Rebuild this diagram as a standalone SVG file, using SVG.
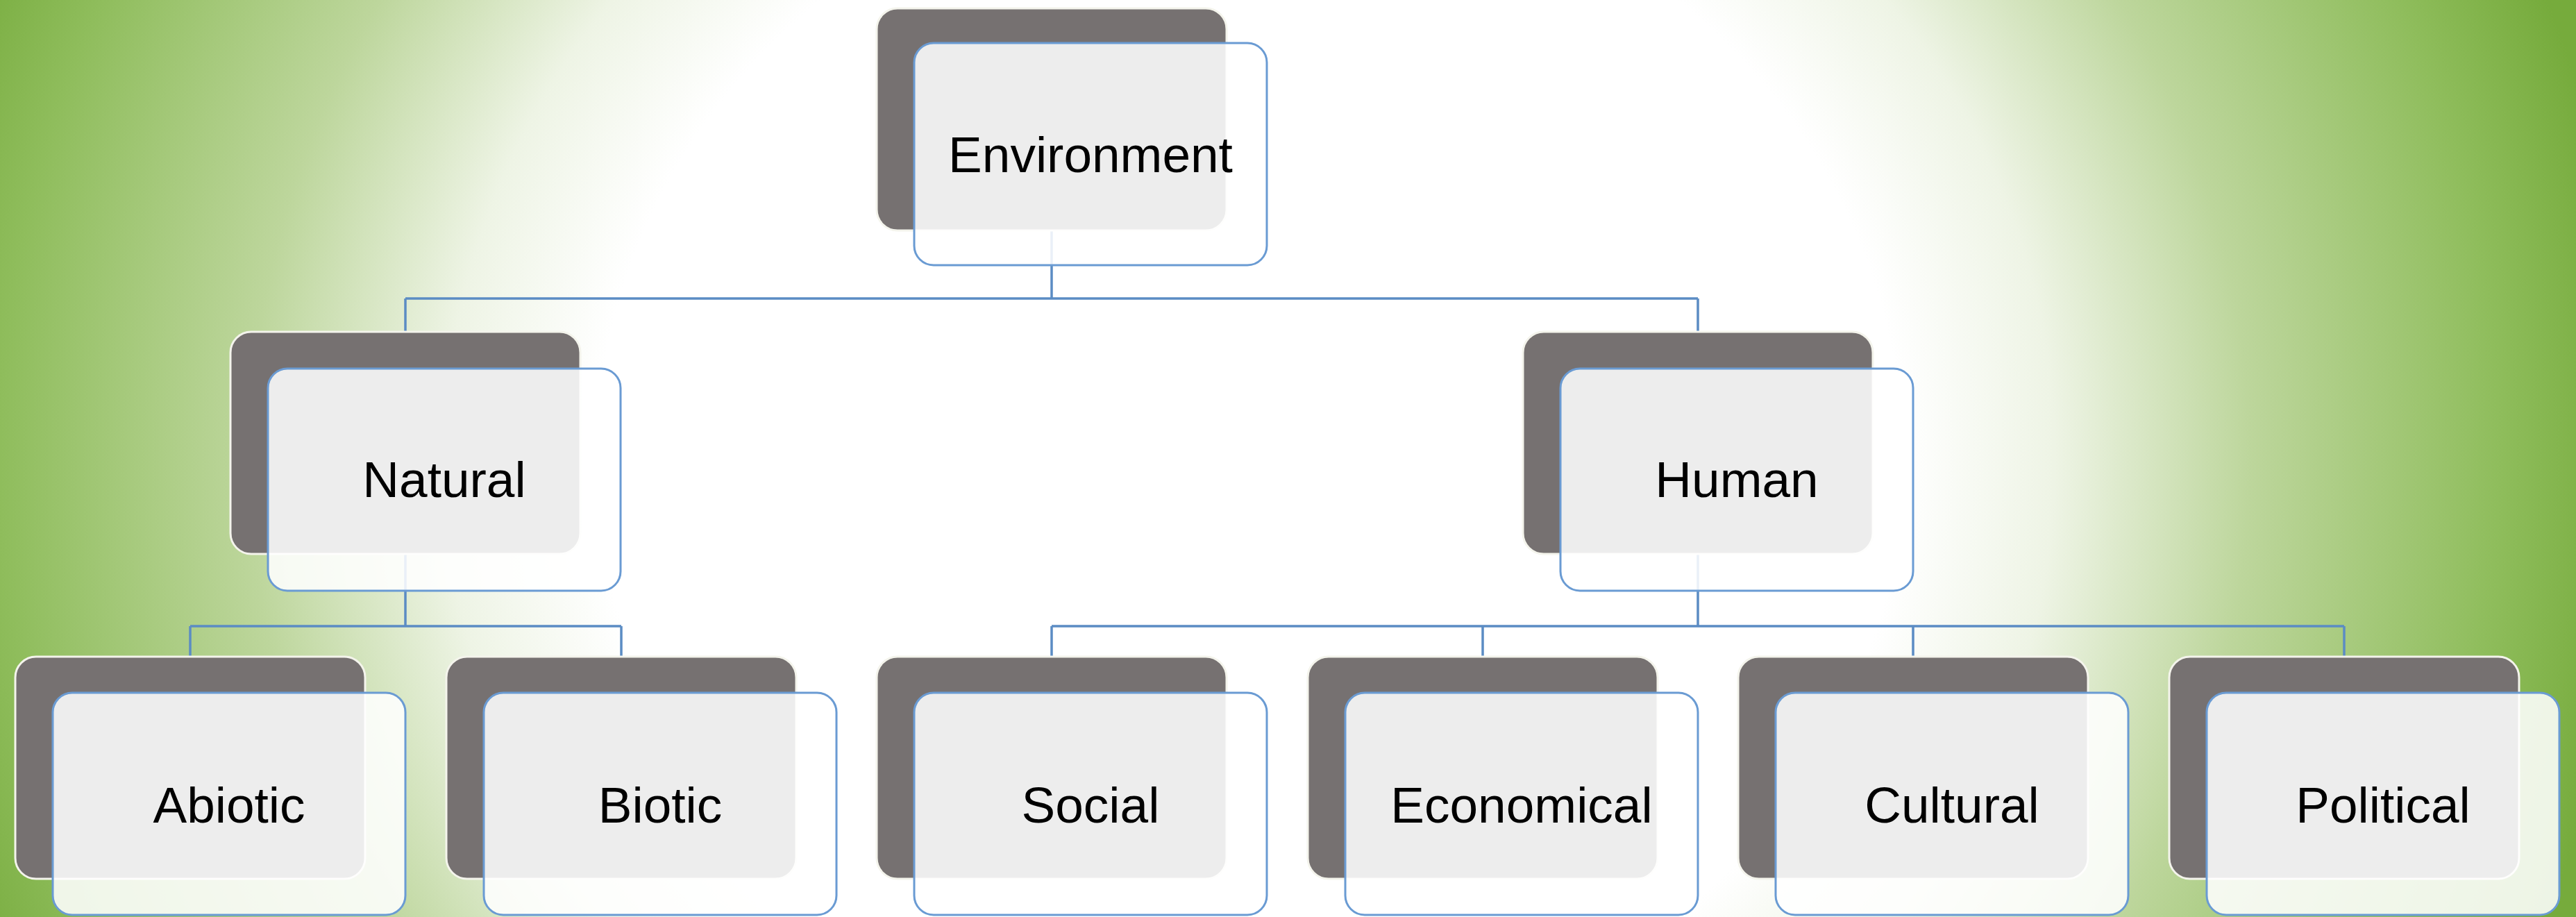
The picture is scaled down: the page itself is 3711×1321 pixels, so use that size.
<svg xmlns="http://www.w3.org/2000/svg" width="3711" height="1321" viewBox="0 0 3711 1321">
<defs>
<radialGradient id="bg" gradientUnits="userSpaceOnUse" cx="1800" cy="660" r="2000" gradientTransform="translate(1800 660) scale(1 0.93) translate(-1800 -660)">
<stop offset="0" stop-color="#ffffff"/>
<stop offset="0.47" stop-color="#ffffff"/>
<stop offset="0.58" stop-color="#eef4e5"/>
<stop offset="0.72" stop-color="#bdd69c"/>
<stop offset="0.9" stop-color="#8fbd5c"/>
<stop offset="1" stop-color="#76ab3c"/>
</radialGradient>
</defs>
<style>
.back{fill:#767171;stroke:#f4f4ec;stroke-width:3}
.front{fill:#ffffff;fill-opacity:0.87;stroke:#6a9bd3;stroke-width:3}
.lbl{font-family:"Liberation Sans",Arial,sans-serif;font-size:73px;fill:#000000;text-anchor:middle}
.conn{stroke:#5b8cc4;stroke-width:3.5;fill:none}
</style>
<rect x="0" y="0" width="3711" height="1321" fill="url(#bg)"/>
<g id="connectors">
<path class="conn" d="M1515 332 V430 M584 430 H2446 M584 430 V478 M2446 430 V478"/>
<path class="conn" d="M584 798 V902 M274 902 H895 M274 902 V946 M895 902 V946"/>
<path class="conn" d="M2446 798 V902 M1515 902 H3377 M1515 902 V946 M2136 902 V946 M2756 902 V946 M3377 902 V946"/>
</g>
<g id="node-environment">
<rect class="back" x="1263" y="12" width="504" height="320" rx="30"/>
<rect class="front" x="1317" y="62" width="508" height="320" rx="28"/>
<text class="lbl" x="1571" y="248">Environment</text>
</g>
<g id="node-natural">
<rect class="back" x="332" y="478" width="504" height="320" rx="30"/>
<rect class="front" x="386" y="531" width="508" height="320" rx="28"/>
<text class="lbl" x="640" y="716">Natural</text>
</g>
<g id="node-human">
<rect class="back" x="2194" y="478" width="504" height="320" rx="30"/>
<rect class="front" x="2248" y="531" width="508" height="320" rx="28"/>
<text class="lbl" x="2502" y="716">Human</text>
</g>
<g id="node-abiotic">
<rect class="back" x="22" y="946" width="504" height="320" rx="30"/>
<rect class="front" x="76" y="998" width="508" height="320" rx="28"/>
<text class="lbl" x="330" y="1185">Abiotic</text>
</g>
<g id="node-biotic">
<rect class="back" x="643" y="946" width="504" height="320" rx="30"/>
<rect class="front" x="697" y="998" width="508" height="320" rx="28"/>
<text class="lbl" x="951" y="1185">Biotic</text>
</g>
<g id="node-social">
<rect class="back" x="1263" y="946" width="504" height="320" rx="30"/>
<rect class="front" x="1317" y="998" width="508" height="320" rx="28"/>
<text class="lbl" x="1571" y="1185">Social</text>
</g>
<g id="node-economical">
<rect class="back" x="1884" y="946" width="504" height="320" rx="30"/>
<rect class="front" x="1938" y="998" width="508" height="320" rx="28"/>
<text class="lbl" x="2192" y="1185">Economical</text>
</g>
<g id="node-cultural">
<rect class="back" x="2504" y="946" width="504" height="320" rx="30"/>
<rect class="front" x="2558" y="998" width="508" height="320" rx="28"/>
<text class="lbl" x="2812" y="1185">Cultural</text>
</g>
<g id="node-political">
<rect class="back" x="3125" y="946" width="504" height="320" rx="30"/>
<rect class="front" x="3179" y="998" width="508" height="320" rx="28"/>
<text class="lbl" x="3433" y="1185">Political</text>
</g>
</svg>
